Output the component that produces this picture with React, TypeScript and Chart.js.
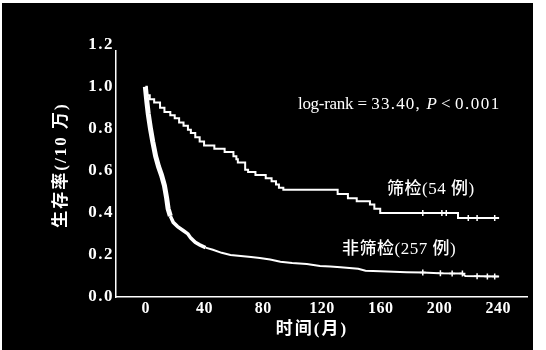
import React, { useEffect, useRef } from "react";
import { Chart, registerables } from "chart.js";

Chart.register(...registerables);

// ---- data ----
const xTickValues = [0, 40, 80, 120, 160, 200, 240];
const yTickValues = [0, 0.2, 0.4, 0.6, 0.8, 1.0, 1.2];
const yTickLabels = ["0.0", "0.2", "0.4", "0.6", "0.8", "1.0", "1.2"];

// 筛检 (54 例) Kaplan-Meier steps
const screenMonths = [0, 1, 3, 6, 10, 13, 17, 20, 23, 26, 29, 31, 34, 37, 40, 47, 54, 60, 62, 63, 68, 70, 75, 82, 86, 89, 91, 94, 131, 138, 144, 153, 156, 160, 213, 241];
const screenSurv = [1.0, 0.96, 0.94, 0.925, 0.9, 0.88, 0.865, 0.85, 0.83, 0.815, 0.795, 0.78, 0.76, 0.74, 0.72, 0.705, 0.69, 0.67, 0.655, 0.64, 0.605, 0.595, 0.58, 0.565, 0.55, 0.535, 0.52, 0.51, 0.49, 0.47, 0.455, 0.44, 0.42, 0.4, 0.376, 0.376];
const screenCensorMonths = [189, 202, 205, 220, 226, 238];
const screenCensorSurv = [0.4, 0.4, 0.4, 0.376, 0.376, 0.376];

// 非筛检 (257 例)
const nonMonths = [0, 1, 2, 3.5, 5, 7, 9, 11, 13, 14.5, 15.5, 17, 19, 22, 26, 29, 31, 34, 37, 41, 46, 52, 58, 65, 72, 78, 85, 92, 100, 110, 119, 126, 133, 139, 145, 150, 160, 178, 189, 200, 216, 218, 241];
const nonSurv = [1.0, 0.93, 0.87, 0.8, 0.74, 0.67, 0.62, 0.58, 0.53, 0.47, 0.42, 0.385, 0.355, 0.335, 0.315, 0.3, 0.28, 0.26, 0.248, 0.235, 0.225, 0.21, 0.2, 0.195, 0.19, 0.186, 0.178, 0.168, 0.162, 0.157, 0.148, 0.145, 0.142, 0.138, 0.134, 0.125, 0.122, 0.118, 0.116, 0.113, 0.112, 0.1, 0.097];
const nonCensorMonths = [189, 201, 209, 216, 226, 233, 238];
const nonCensorSurv = [0.116, 0.113, 0.112, 0.112, 0.099, 0.098, 0.097];

const yTitle = "生存率(/10 万)";
const xTitle = "时间(月)";
const screenLabel = "筛检(54 例)";
const nonLabel = "非筛检(257 例)";

const toPts = (xs: number[], ys: number[]) => xs.map((x, i) => ({ x, y: ys[i] }));

const decor = {
  id: "decor",
  beforeDraw(chart: any) {
    const ctx = chart.ctx;
    ctx.save();
    ctx.fillStyle = "#ffffff";
    ctx.fillRect(0, 0, chart.width, chart.height);
    ctx.fillStyle = "#000000";
    ctx.fillRect(2, 3, 531, 347);
    ctx.restore();
  },
  afterDraw(chart: any) {
    const ctx = chart.ctx;
    const xs = chart.scales.x;
    const ys = chart.scales.y;
    ctx.save();
    ctx.fillStyle = "#ffffff";
    // y tick labels
    ctx.font = 'bold 17px "Liberation Serif"';
    (ctx as any).letterSpacing = "1.5px";
    ctx.textAlign = "right";
    ctx.textBaseline = "middle";
    yTickValues.forEach((v, i) => {
      ctx.fillText(yTickLabels[i], 114, ys.getPixelForValue(v));
    });
    // x tick labels
    ctx.font = 'bold 16px "Liberation Serif"';
    (ctx as any).letterSpacing = "0.5px";
    ctx.textAlign = "center";
    xTickValues.forEach((v) => {
      ctx.fillText(String(v), xs.getPixelForValue(v) + 0.5, 309);
    });
    // annotation
    ctx.textAlign = "left";
    let x = 298;
    const y0 = 105;
    const parts: [string, string, string][] = [
      ["log-rank", '17px "Liberation Serif"', "-0.3px"],
      [" = ", '17px "Liberation Serif"', "0px"],
      ["33.40, ", '17px "Liberation Serif"', "1.2px"],
      ["P", 'italic 17px "Liberation Serif"', "0px"],
      [" < ", '17px "Liberation Serif"', "0px"],
      ["0.001", '17px "Liberation Serif"', "1.5px"],
    ];
    parts.forEach(([t, f, ls]) => {
      ctx.font = f;
      (ctx as any).letterSpacing = ls;
      ctx.fillText(t, x, y0);
      x += ctx.measureText(t).width;
    });
    // series labels
    (ctx as any).letterSpacing = "0.5px";
    ctx.font = '500 17px "Liberation Serif", "Noto Sans CJK SC"';
    ctx.fillText(screenLabel, 387, 190);
    ctx.fillText(nonLabel, 342, 250);
    // x title
    ctx.font = 'bold 17px "Liberation Serif", "Noto Sans CJK SC"';
    ctx.textAlign = "center";
    (ctx as any).letterSpacing = "2px";
    ctx.fillText(xTitle, 312, 330);
    // y title
    ctx.translate(62, 165);
    ctx.rotate(-Math.PI / 2);
    ctx.fillText(yTitle, 0, 0);
    ctx.restore();
  },
};

export default function App() {
  const ref = useRef<HTMLCanvasElement | null>(null);
  useEffect(() => {
    document.body.style.margin = "0";
    const canvas = ref.current!;
    const chart = new Chart(canvas, {
      type: "line",
      data: {
        datasets: [
          {
            label: screenLabel,
            data: toPts(screenMonths, screenSurv),
            stepped: true,
            borderColor: "#ffffff",
            borderWidth: 2,
            pointRadius: 0,
            fill: false,
          },
          {
            label: nonLabel,
            data: toPts(nonMonths, nonSurv),
            borderColor: "#ffffff",
            borderWidth: 2,
            pointRadius: 0,
            fill: false,
            tension: 0,
            segment: {
              borderWidth: (c: any) => (c.p0.parsed.x < 16 ? 5 : c.p0.parsed.x < 40 ? 3.5 : 2),
            },
          } as any,
          {
            type: "scatter",
            data: toPts(screenCensorMonths, screenCensorSurv),
            pointStyle: "cross",
            pointRadius: 3,
            borderColor: "#ffffff",
            borderWidth: 1.5,
            showLine: false,
          } as any,
          {
            type: "scatter",
            data: toPts(nonCensorMonths, nonCensorSurv),
            pointStyle: "cross",
            pointRadius: 3,
            borderColor: "#ffffff",
            borderWidth: 1.5,
            showLine: false,
          } as any,
        ],
      },
      options: {
        responsive: false,
        animation: false,
        devicePixelRatio: 1,
        layout: { padding: { left: 0, right: 19, top: 51, bottom: 0 }, autoPadding: false } as any,
        plugins: { legend: { display: false }, tooltip: { enabled: false } },
        scales: {
          x: {
            type: "linear",
            min: -20,
            max: 260,
            grid: { display: false, drawTicks: false },
            border: { display: true, color: "#ffffff", width: 1.5 },
            ticks: { display: false },
            afterFit: (s: any) => { s.height = 53; },
          },
          y: {
            type: "linear",
            min: 0,
            max: 1.17,
            grid: { display: false, drawTicks: false },
            border: { display: true, color: "#ffffff", width: 1.5 },
            ticks: { display: false },
            afterFit: (s: any) => { s.width = 116; },
          },
        },
      },
      plugins: [decor],
    });
    return () => chart.destroy();
  }, []);
  return (
    <div style={{ position: "fixed", left: 0, top: 0, width: 546, height: 350 }}>
      <canvas ref={ref} width={546} height={350} style={{ width: 546, height: 350, display: "block" }} />
    </div>
  );
}
